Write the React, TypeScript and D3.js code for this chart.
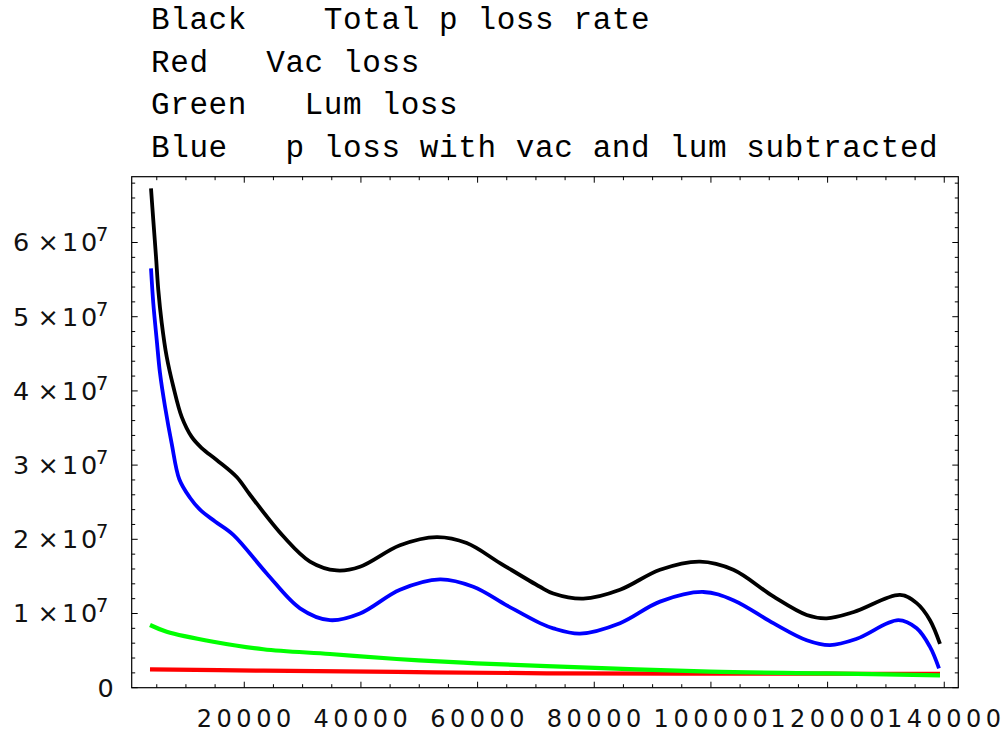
import React from "react";
import * as d3 from "d3";

const legendLines = [
  "Black    Total p loss rate",
  "Red   Vac loss",
  "Green   Lum loss",
  "Blue   p loss with vac and lum subtracted",
];

const xMajorTicks = [20000, 40000, 60000, 80000, 100000, 120000, 140000];
const yMajorTicks = [0, 1e7, 2e7, 3e7, 4e7, 5e7, 6e7];

const blackX = [4011, 4406, 4869, 5263, 5846, 6703, 7834, 9274, 10989, 12703, 15274, 18703, 20983, 26692, 31269, 35846, 39840, 46697, 52989, 58132, 63840, 70697, 72977, 78120, 84412, 91269, 98126, 103834, 110691, 116417, 119846, 124500, 132412, 135275, 137555, 139269];
const blackY = [67.3, 63.0, 58.1, 53.6, 49.2, 44.6, 40.6, 36.5, 33.8, 32.3, 30.7, 28.4, 26.0, 20.4, 17.0, 15.8, 16.3, 19.2, 20.3, 19.5, 16.8, 13.6, 12.7, 12.0, 13.2, 15.9, 17.0, 15.9, 12.3, 9.8, 9.35, 10.2, 12.5, 11.4, 9.1, 5.9].map((v) => v * 1e6);

const blueX = [4011, 4406, 4989, 5554, 6411, 7560, 8863, 10697, 12412, 15000, 18120, 23846, 29555, 34697, 39840, 46697, 53554, 59263, 64989, 70697, 72977, 77555, 84412, 91269, 98692, 103834, 110691, 116417, 120411, 125000, 132121, 135275, 137555, 139097];
const blueY = [56.5, 51.8, 46.9, 42.4, 37.9, 32.9, 28.1, 25.6, 24.0, 22.4, 20.6, 15.4, 10.7, 9.1, 10.0, 13.2, 14.6, 13.6, 11.1, 8.7, 8.0, 7.3, 8.7, 11.6, 12.9, 11.8, 8.7, 6.4, 5.75, 6.6, 9.1, 8.0, 5.5, 2.6].map((v) => v * 1e6);

const greenX = [3840, 6703, 14692, 23263, 34697, 46132, 57549, 71846, 99840, 119846, 139269];
const greenY = [8.45, 7.55, 6.2, 5.18, 4.54, 3.87, 3.37, 2.92, 2.16, 1.94, 1.67].map((v) => v * 1e6);

const redX = [3840, 23263, 46132, 71846, 119846, 139269];
const redY = [2.48, 2.29, 2.12, 1.94, 1.89, 1.85].map((v) => v * 1e6);

const series = [
  { name: "Vac loss", xs: redX, ys: redY, color: "#ff0000", width: 4.2 },
  { name: "Lum loss", xs: greenX, ys: greenY, color: "#00ff00", width: 4.2 },
  { name: "Subtracted", xs: blueX, ys: blueY, color: "#0000ff", width: 3.8 },
  { name: "Total", xs: blackX, ys: blackY, color: "#000000", width: 3.8 },
];

const L = 131.7, R = 958.3, T = 176.7, B = 687.7;

export default function App() {
  const x = d3.scaleLinear().domain([703, 142406]).range([L, R]);
  const y = d3.scaleLinear().domain([0, 6.887e7]).range([B, T]);
  const line = d3
    .line<[number, number]>()
    .x((d) => x(d[0]))
    .y((d) => y(d[1]))
    .curve(d3.curveCatmullRom.alpha(0.5));

  const xMinor = d3.range(5000, 142406, 5000).filter((v) => !xMajorTicks.includes(v));
  const yMinor = d3.range(2e6, 6.887e7, 2e6).filter((v) => !yMajorTicks.includes(Math.round(v)));
  const maj = 6, min = 3.5;

  return (
    <svg width={1005} height={733} style={{ position: "absolute", left: 0, top: 0, background: "#fff" }}>
      <g fontFamily="'Liberation Mono', monospace" fontSize={31} fill="#000">
        {legendLines.map((t, i) => (
          <text key={i} x={151} y={29.3 + i * 42.5} style={{ whiteSpace: "pre" }} letterSpacing={0.6}>
            {t}
          </text>
        ))}
      </g>
      <rect x={L} y={T} width={R - L} height={B - T} fill="none" stroke="#000" strokeWidth={1.2} />
      <g stroke="#000" strokeWidth={1}>
        {xMajorTicks.map((v) => (
          <g key={"xm" + v}>
            <line x1={x(v)} x2={x(v)} y1={B} y2={B - maj} />
            <line x1={x(v)} x2={x(v)} y1={T} y2={T + maj} />
          </g>
        ))}
        {xMinor.map((v) => (
          <g key={"xn" + v}>
            <line x1={x(v)} x2={x(v)} y1={B} y2={B - min} />
            <line x1={x(v)} x2={x(v)} y1={T} y2={T + min} />
          </g>
        ))}
        {yMajorTicks.map((v) => (
          <g key={"ym" + v}>
            <line x1={L} x2={L + maj} y1={y(v)} y2={y(v)} />
            <line x1={R} x2={R - maj} y1={y(v)} y2={y(v)} />
          </g>
        ))}
        {yMinor.map((v) => (
          <g key={"yn" + v}>
            <line x1={L} x2={L + min} y1={y(v)} y2={y(v)} />
            <line x1={R} x2={R - min} y1={y(v)} y2={y(v)} />
          </g>
        ))}
      </g>
      <g fontFamily="'DejaVu Sans', sans-serif" fontSize={24} fill="#111">
        {xMajorTicks.map((v) => (
          <text key={"xl" + v} x={x(v) + 2} y={726.5} textAnchor="middle" letterSpacing={4.5}>
            {String(v)}
          </text>
        ))}
      </g>
      <g fontFamily="'DejaVu Sans', sans-serif" fontSize={25.5} fill="#111">
        {yMajorTicks.map((v) => {
          const yy = y(v) + 8.8;
          if (v === 0) {
            return (
              <text key="yl0" x={97.5} y={yy}>
                0
              </text>
            );
          }
          const m = Math.round(v / 1e7);
          return (
            <text key={"yl" + v} x={13} y={yy}>
              <tspan x={13}>{String(m)}</tspan>
              <tspan x={37.5}>×</tspan>
              <tspan x={62}>1</tspan>
              <tspan x={81}>0</tspan>
              <tspan x={96} dy={-10} fontSize={19.5}>7</tspan>
            </text>
          );
        })}
      </g>
      <g fill="none" strokeLinejoin="round" strokeLinecap="butt">
        {series.map((s) => (
          <path
            key={s.name}
            d={line(s.xs.map((xv, i) => [xv, s.ys[i]] as [number, number])) || ""}
            stroke={s.color}
            strokeWidth={s.width}
          />
        ))}
      </g>
    </svg>
  );
}
